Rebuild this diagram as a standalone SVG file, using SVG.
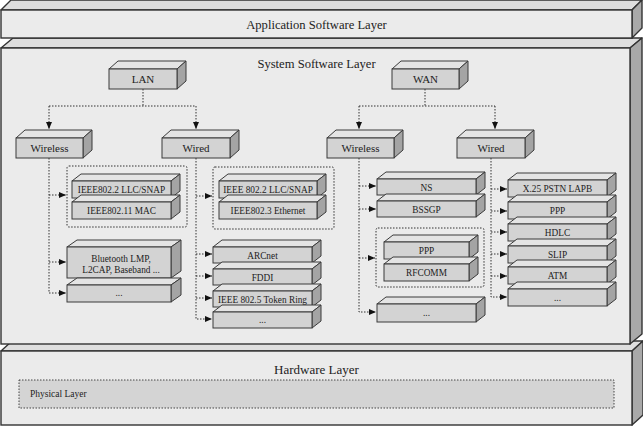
<svg xmlns="http://www.w3.org/2000/svg" width="643" height="427" viewBox="0 0 643 427">
<defs>
<style>
.lf{fill:#ebebeb;stroke:#333;stroke-width:1.4}
.lt{fill:#dedede;stroke:#333;stroke-width:1.4;stroke-linejoin:round}
.lr{fill:#a9a9a9;stroke:#333;stroke-width:1.4;stroke-linejoin:round}
.f{fill:#d3d3d3;stroke:#3a3a3a;stroke-width:1}
.t{fill:#e4e4e4;stroke:#3a3a3a;stroke-width:1;stroke-linejoin:round}
.r{fill:#a4a4a4;stroke:#3a3a3a;stroke-width:1;stroke-linejoin:round}
.c{fill:none;stroke:#333;stroke-width:1;stroke-dasharray:1.5 1.5}
.g{fill:none;stroke:#333;stroke-width:1;stroke-dasharray:1.5 1.5}
text{font-family:'Liberation Serif','Times New Roman',serif;fill:#222;text-anchor:middle}
.L{font-size:12.6px}
.N{font-size:11px}
.s{font-size:9.3px}
</style>
<marker id="ah" markerUnits="userSpaceOnUse" markerWidth="7" markerHeight="6" refX="7" refY="3" orient="auto">
<path d="M0,0 L7,3 L0,6 z" fill="#111"/>
</marker>
</defs>
<rect width="643" height="427" fill="#fff"/>

<g id="hardware-layer">
<polygon class="lt" points="1,351 12,341 643,341 632,351"/>
<polygon class="lr" points="632,351 643,341 643,415 632,425"/>
<rect class="lf" x="1" y="351" width="631" height="74"/>
<text class="L" x="316.5" y="373.5" style="font-size:13px">Hardware Layer</text>
<rect x="19" y="380" width="595" height="28" fill="#d4d4d4" stroke="#444" stroke-width="1" stroke-dasharray="1.5 1.5"/>
<text x="30" y="397" style="font-size:9.5px;text-anchor:start">Physical Layer</text>
</g>

<g id="system-layer">
<polygon class="lt" points="1,48 13,38 642,38 630,48"/>
<polygon class="lr" points="630,48 642,38 642,334 630,344"/>
<rect class="lf" x="1" y="48" width="629" height="296"/>
<text class="L" x="316.5" y="67.5">System Software Layer</text>
</g>

<g id="application-layer">
<polygon class="lt" points="1,10 11,0 642,0 632,10"/>
<polygon class="lr" points="632,10 642,0 642,28 632,38"/>
<rect class="lf" x="1" y="10" width="631" height="28"/>
<text class="L" x="316.5" y="28.5">Application Software Layer</text>
</g>

<g id="groups">
<rect id="lan-wireless-group" class="g" x="67" y="166" width="120" height="61" rx="2"/>
<rect id="lan-wired-group" class="g" x="213" y="167" width="121" height="62" rx="2"/>
<rect id="wan-wireless-group" class="g" x="376" y="228" width="108" height="59" rx="2"/>
</g>

<g id="connectors">
<path class="c" d="M143,89 V106 M49,106 H196"/>
<path class="c" d="M49,106 V129" marker-end="url(#ah)"/>
<path class="c" d="M196,106 V129" marker-end="url(#ah)"/>
<path class="c" d="M425,89 V106 M359,106 H495"/>
<path class="c" d="M359,106 V129" marker-end="url(#ah)"/>
<path class="c" d="M495,106 V129" marker-end="url(#ah)"/>
<path class="c" d="M49,158 V293 H66" marker-end="url(#ah)"/>
<path class="c" d="M49,195 H66" marker-end="url(#ah)"/>
<path class="c" d="M49,262 H66" marker-end="url(#ah)"/>
<path class="c" d="M196,158 V319 H212" marker-end="url(#ah)"/>
<path class="c" d="M196,196 H212" marker-end="url(#ah)"/>
<path class="c" d="M196,254 H212" marker-end="url(#ah)"/>
<path class="c" d="M196,276 H212" marker-end="url(#ah)"/>
<path class="c" d="M196,298 H212" marker-end="url(#ah)"/>
<path class="c" d="M359,158 V312 H376" marker-end="url(#ah)"/>
<path class="c" d="M359,186 H376" marker-end="url(#ah)"/>
<path class="c" d="M359,209 H376" marker-end="url(#ah)"/>
<path class="c" d="M359,258 H375" marker-end="url(#ah)"/>
<path class="c" d="M491,158 V297 H507" marker-end="url(#ah)"/>
<path class="c" d="M491,189 H507" marker-end="url(#ah)"/>
<path class="c" d="M491,211 H507" marker-end="url(#ah)"/>
<path class="c" d="M491,232 H507" marker-end="url(#ah)"/>
<path class="c" d="M491,254 H507" marker-end="url(#ah)"/>
<path class="c" d="M491,276 H507" marker-end="url(#ah)"/>
</g>

<g id="lan">
<polygon class="t" points="109,69 118,61 186,61 177,69"/>
<polygon class="r" points="177,69 186,61 186,81 177,89"/>
<rect class="f" x="109" y="69" width="68" height="20"/>
<text class="N" x="143" y="83">LAN</text>
</g>
<g id="wan">
<polygon class="t" points="392,69 401,61 468,61 459,69"/>
<polygon class="r" points="459,69 468,61 468,81 459,89"/>
<rect class="f" x="392" y="69" width="67" height="20"/>
<text class="N" x="425.5" y="83">WAN</text>
</g>
<g id="lan-wireless">
<polygon class="t" points="16,138 25,130 92,130 83,138"/>
<polygon class="r" points="83,138 92,130 92,150 83,158"/>
<rect class="f" x="16" y="138" width="67" height="20"/>
<text class="N" x="49.5" y="152">Wireless</text>
</g>
<g id="lan-wired">
<polygon class="t" points="162,138 171,130 239,130 230,138"/>
<polygon class="r" points="230,138 239,130 239,150 230,158"/>
<rect class="f" x="162" y="138" width="68" height="20"/>
<text class="N" x="196" y="152">Wired</text>
</g>
<g id="wan-wireless">
<polygon class="t" points="327,138 336,130 403,130 394,138"/>
<polygon class="r" points="394,138 403,130 403,150 394,158"/>
<rect class="f" x="327" y="138" width="67" height="20"/>
<text class="N" x="360.5" y="152">Wireless</text>
</g>
<g id="wan-wired">
<polygon class="t" points="457,138 466,130 534,130 525,138"/>
<polygon class="r" points="525,138 534,130 534,150 525,158"/>
<rect class="f" x="457" y="138" width="68" height="20"/>
<text class="N" x="491" y="152">Wired</text>
</g>

<g id="lan-wireless-llc">
<polygon class="t" points="72,181 81,174 180,174 171,181"/>
<polygon class="r" points="171,181 180,174 180,191 171,198"/>
<rect class="f" x="72" y="181" width="99" height="17"/>
<text class="s" x="121.5" y="193">IEEE802.2 LLC/SNAP</text>
</g>
<g id="lan-wireless-mac">
<polygon class="t" points="72,202 81,195 180,195 171,202"/>
<polygon class="r" points="171,202 180,195 180,212 171,219"/>
<rect class="f" x="72" y="202" width="99" height="17"/>
<text class="s" x="121.5" y="214">IEEE802.11 MAC</text>
</g>
<g id="lan-wireless-bluetooth">
<polygon class="t" points="67,247 77,240 181,240 171,247"/>
<polygon class="r" points="171,247 181,240 181,271 171,278"/>
<rect class="f" x="67" y="247" width="104" height="31"/>
<text class="s" x="121" y="261.5">Bluetooth LMP,</text>
<text class="s" x="121" y="272.5">L2CAP, Baseband ...</text>
</g>
<g id="lan-wireless-more">
<polygon class="t" points="67,285 77,278 181,278 171,285"/>
<polygon class="r" points="171,285 181,278 181,295 171,302"/>
<rect class="f" x="67" y="285" width="104" height="17"/>
<text class="s" x="119" y="296">...</text>
</g>

<g id="lan-wired-llc">
<polygon class="t" points="219,181 228,174 326,174 317,181"/>
<polygon class="r" points="317,181 326,174 326,191 317,198"/>
<rect class="f" x="219" y="181" width="98" height="17"/>
<text class="s" x="268" y="193">IEEE 802.2 LLC/SNAP</text>
</g>
<g id="lan-wired-ethernet">
<polygon class="t" points="219,202 228,195 326,195 317,202"/>
<polygon class="r" points="317,202 326,195 326,212 317,219"/>
<rect class="f" x="219" y="202" width="98" height="17"/>
<text class="s" x="268" y="214">IEEE802.3 Ethernet</text>
</g>
<g id="lan-wired-arcnet">
<polygon class="t" points="213,247 222,240 321,240 312,247"/>
<polygon class="r" points="312,247 321,240 321,256 312,263"/>
<rect class="f" x="213" y="247" width="99" height="16"/>
<text class="s" x="262.5" y="259">ARCnet</text>
</g>
<g id="lan-wired-fddi">
<polygon class="t" points="213,269 222,262 321,262 312,269"/>
<polygon class="r" points="312,269 321,262 321,278 312,285"/>
<rect class="f" x="213" y="269" width="99" height="16"/>
<text class="s" x="262.5" y="281">FDDI</text>
</g>
<g id="lan-wired-tokenring">
<polygon class="t" points="213,291 222,284 321,284 312,291"/>
<polygon class="r" points="312,291 321,284 321,300 312,307"/>
<rect class="f" x="213" y="291" width="99" height="16"/>
<text class="s" x="262.5" y="303">IEEE 802.5 Token Ring</text>
</g>
<g id="lan-wired-more">
<polygon class="t" points="213,312 222,305 321,305 312,312"/>
<polygon class="r" points="312,312 321,305 321,321 312,328"/>
<rect class="f" x="213" y="312" width="99" height="16"/>
<text class="s" x="262.5" y="323">...</text>
</g>

<g id="wan-wireless-ns">
<polygon class="t" points="377,179 386,172 485,172 476,179"/>
<polygon class="r" points="476,179 485,172 485,188 476,195"/>
<rect class="f" x="377" y="179" width="99" height="16"/>
<text class="s" x="426.5" y="191">NS</text>
</g>
<g id="wan-wireless-bssgp">
<polygon class="t" points="377,201 386,194 485,194 476,201"/>
<polygon class="r" points="476,201 485,194 485,210 476,217"/>
<rect class="f" x="377" y="201" width="99" height="16"/>
<text class="s" x="426.5" y="213">BSSGP</text>
</g>
<g id="wan-wireless-ppp">
<polygon class="t" points="384,242 393,235 478,235 469,242"/>
<polygon class="r" points="469,242 478,235 478,252 469,259"/>
<rect class="f" x="384" y="242" width="85" height="17"/>
<text class="s" x="426.5" y="254">PPP</text>
</g>
<g id="wan-wireless-rfcomm">
<polygon class="t" points="384,264 393,257 478,257 469,264"/>
<polygon class="r" points="469,264 478,257 478,274 469,281"/>
<rect class="f" x="384" y="264" width="85" height="17"/>
<text class="s" x="426.5" y="276">RFCOMM</text>
</g>
<g id="wan-wireless-more">
<polygon class="t" points="377,304 386,297 485,297 476,304"/>
<polygon class="r" points="476,304 485,297 485,315 476,322"/>
<rect class="f" x="377" y="304" width="99" height="18"/>
<text class="s" x="426.5" y="316">...</text>
</g>

<g id="wan-wired-x25">
<polygon class="t" points="508,180 517,173 616,173 607,180"/>
<polygon class="r" points="607,180 616,173 616,190 607,197"/>
<rect class="f" x="508" y="180" width="99" height="17"/>
<text class="s" x="557.5" y="192">X.25 PSTN LAPB</text>
</g>
<g id="wan-wired-ppp">
<polygon class="t" points="508,202 517,195 616,195 607,202"/>
<polygon class="r" points="607,202 616,195 616,212 607,219"/>
<rect class="f" x="508" y="202" width="99" height="17"/>
<text class="s" x="557.5" y="214">PPP</text>
</g>
<g id="wan-wired-hdlc">
<polygon class="t" points="508,224 517,217 616,217 607,224"/>
<polygon class="r" points="607,224 616,217 616,234 607,241"/>
<rect class="f" x="508" y="224" width="99" height="17"/>
<text class="s" x="557.5" y="236">HDLC</text>
</g>
<g id="wan-wired-slip">
<polygon class="t" points="508,246 517,239 616,239 607,246"/>
<polygon class="r" points="607,246 616,239 616,256 607,263"/>
<rect class="f" x="508" y="246" width="99" height="17"/>
<text class="s" x="557.5" y="258">SLIP</text>
</g>
<g id="wan-wired-atm">
<polygon class="t" points="508,267 517,260 616,260 607,267"/>
<polygon class="r" points="607,267 616,260 616,277 607,284"/>
<rect class="f" x="508" y="267" width="99" height="17"/>
<text class="s" x="557.5" y="279">ATM</text>
</g>
<g id="wan-wired-more">
<polygon class="t" points="508,289 517,282 616,282 607,289"/>
<polygon class="r" points="607,289 616,282 616,299 607,306"/>
<rect class="f" x="508" y="289" width="99" height="17"/>
<text class="s" x="557.5" y="301">...</text>
</g>
</svg>
